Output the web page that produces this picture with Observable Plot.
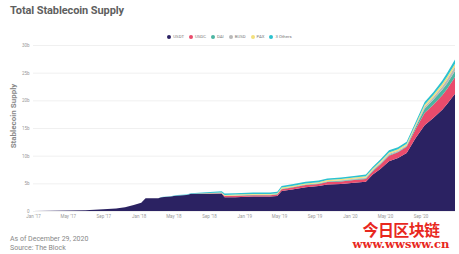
<!DOCTYPE html>
<html><head><meta charset="utf-8">
<script src="https://cdn.jsdelivr.net/npm/d3@7"></script>
<script src="https://cdn.jsdelivr.net/npm/@observablehq/plot@0.6"></script>
<style>
body{margin:0;background:#fff;font-family:Roboto,"Liberation Sans",sans-serif;}
#wrap{position:relative;width:459px;height:254px;overflow:hidden;}
#title{position:absolute;left:10px;top:5px;font-size:11px;font-weight:bold;color:#5f5f5f;letter-spacing:-0.1px;line-height:1;}
#legend{position:absolute;left:0;width:459px;top:35px;display:flex;justify-content:center;gap:5px;font-size:4.3px;color:#777;line-height:1;}
#legend span.it{display:flex;align-items:center;gap:2px;}
#legend i{display:inline-block;width:4px;height:4px;border-radius:50%;}
#ylab{position:absolute;left:14px;top:116px;transform:translate(-50%,-50%) rotate(-90deg);font-size:8px;font-weight:bold;color:#888;white-space:nowrap;line-height:1;}
#foot{position:absolute;left:10px;top:235px;font-size:7px;color:#888;line-height:9px;}
#wm{position:absolute;left:347px;top:222px;width:108px;text-align:center;color:#e8281e;font-weight:bold;}
#wm .a{display:block;font-size:16px;font-family:"Noto Sans CJK SC",sans-serif;letter-spacing:-0.6px;line-height:15px;}
#wm .b{display:block;margin-top:2px;font-size:11.5px;font-family:"DejaVu Serif","Liberation Serif",serif;line-height:10px;}
#chart{position:absolute;left:0;top:0;}
</style></head>
<body><div id="wrap">
<div id="chart"></div>
<div id="title">Total Stablecoin Supply</div>
<div id="legend"></div>
<div id="ylab">Stablecoin Supply</div>
<div id="foot">As of December 29, 2020<br>Source: The Block</div>
<div id="wm"><span class="a">今日区块链</span><span class="b">www.wwsww.cn</span></div>
</div>
<script>
const dates = ["2017-01-01","2017-03-01","2017-05-01","2017-07-01","2017-09-01","2017-10-15","2017-11-15","2017-12-15","2018-01-10","2018-01-25","2018-03-10","2018-03-20","2018-04-20","2018-05-15","2018-06-15","2018-07-01","2018-10-15","2018-10-25","2018-12-01","2019-02-01","2019-04-01","2019-04-25","2019-05-10","2019-06-15","2019-08-01","2019-09-15","2019-10-15","2019-12-01","2020-01-15","2020-02-25","2020-03-20","2020-04-15","2020-05-15","2020-06-15","2020-07-15","2020-08-15","2020-09-15","2020-10-15","2020-11-15","2020-12-01","2020-12-29"];
const usdt   = [0.02,0.04,0.08,0.15,0.3,0.45,0.7,1.1,1.5,2.3,2.3,2.5,2.6,2.8,2.9,3.1,3.1,2.5,2.5,2.6,2.6,2.7,3.6,3.9,4.3,4.5,4.8,4.9,5.1,5.3,6.6,7.6,9.0,9.6,10.5,13.2,15.5,16.8,18.3,19.3,21.2];
const usdc   = [0,0,0,0,0,0,0,0,0,0,0,0,0,0,0,0,0.1,0.2,0.25,0.25,0.25,0.3,0.35,0.35,0.4,0.4,0.45,0.45,0.5,0.5,0.6,0.8,1.0,1.0,1.1,1.6,2.2,2.4,2.6,2.7,3.0];
const dai    = [0,0,0,0,0,0,0,0,0,0,0,0,0,0,0,0,0.05,0.06,0.07,0.08,0.08,0.08,0.08,0.08,0.08,0.08,0.09,0.1,0.1,0.1,0.1,0.12,0.13,0.13,0.15,0.4,0.8,0.9,1.0,1.0,1.1];
const busd   = [0,0,0,0,0,0,0,0,0,0,0,0,0,0,0,0,0,0,0,0,0,0,0,0,0,0.02,0.05,0.1,0.12,0.15,0.15,0.18,0.2,0.18,0.15,0.2,0.35,0.45,0.6,0.7,0.8];
const pax    = [0,0,0,0,0,0,0,0,0,0,0,0,0,0,0,0,0.1,0.15,0.15,0.15,0.15,0.15,0.2,0.2,0.2,0.2,0.2,0.22,0.22,0.25,0.25,0.25,0.25,0.25,0.25,0.3,0.35,0.4,0.5,0.5,0.5];
const others = [0,0,0,0,0,0,0,0,0,0,0.02,0.03,0.05,0.07,0.08,0.1,0.2,0.25,0.25,0.25,0.25,0.25,0.3,0.3,0.3,0.3,0.3,0.3,0.3,0.3,0.3,0.35,0.4,0.35,0.35,0.4,0.5,0.5,0.6,0.7,0.8];
const seriesNames = ["USDT","USDC","DAI","BUSD","PAX","3 Others"];
const seriesColors = ["#2b2262","#ea4b6c","#4cb5a2","#b9b9b9","#f3e07c","#2cc2cf"];
const yTicks = [0,5,10,15,20,25,30];
const yTickLabels = ["0","5b","10b","15b","20b","25b","30b"];

const series = [usdt,usdc,dai,busd,pax,others];
const parse = d3.utcParse("%Y-%m-%d");
const rows = [];
seriesNames.forEach((name,si)=>{
  dates.forEach((d,i)=>rows.push({date:parse(d),series:name,value:series[si][i]}));
});
const xTicks = d3.utcMonth.every(4).range(parse("2017-01-01"), parse("2021-01-01"));
const fmtX = d => d3.utcFormat("%b '%y")(d);
const fmtY = d => yTickLabels[yTicks.indexOf(d)];

const chart = Plot.plot({
  width:459, height:222,
  marginLeft:33, marginRight:4, marginTop:45, marginBottom:11,
  style:{fontFamily:"Roboto, sans-serif", background:"transparent"},
  x:{type:"utc", domain:[parse("2017-01-01"), parse("2020-12-29")], label:null},
  y:{domain:[0,30], label:null},
  color:{domain:seriesNames, range:seriesColors},
  marks:[
    Plot.gridY(yTicks,{stroke:"#e6e6e6", strokeOpacity:1, strokeWidth:0.6}),
    Plot.areaY(rows,{x:"date", y:"value", z:"series", fill:"series", order:seriesNames}),
    Plot.axisY({ticks:yTicks, tickFormat:fmtY, tickSize:0, tickPadding:4, fontSize:4.5, fill:"#999", label:null}),
    Plot.axisX({ticks:xTicks, tickFormat:fmtX, tickSize:0, tickPadding:3, fontSize:4.5, fill:"#999", label:null})
  ]
});
document.getElementById("chart").appendChild(chart);

const lg = document.getElementById("legend");
seriesNames.forEach((n,i)=>{
  const s=document.createElement("span"); s.className="it";
  const c=document.createElement("i"); c.style.background=seriesColors[i];
  s.appendChild(c); s.appendChild(document.createTextNode(n)); lg.appendChild(s);
});
</script>
</body></html>
